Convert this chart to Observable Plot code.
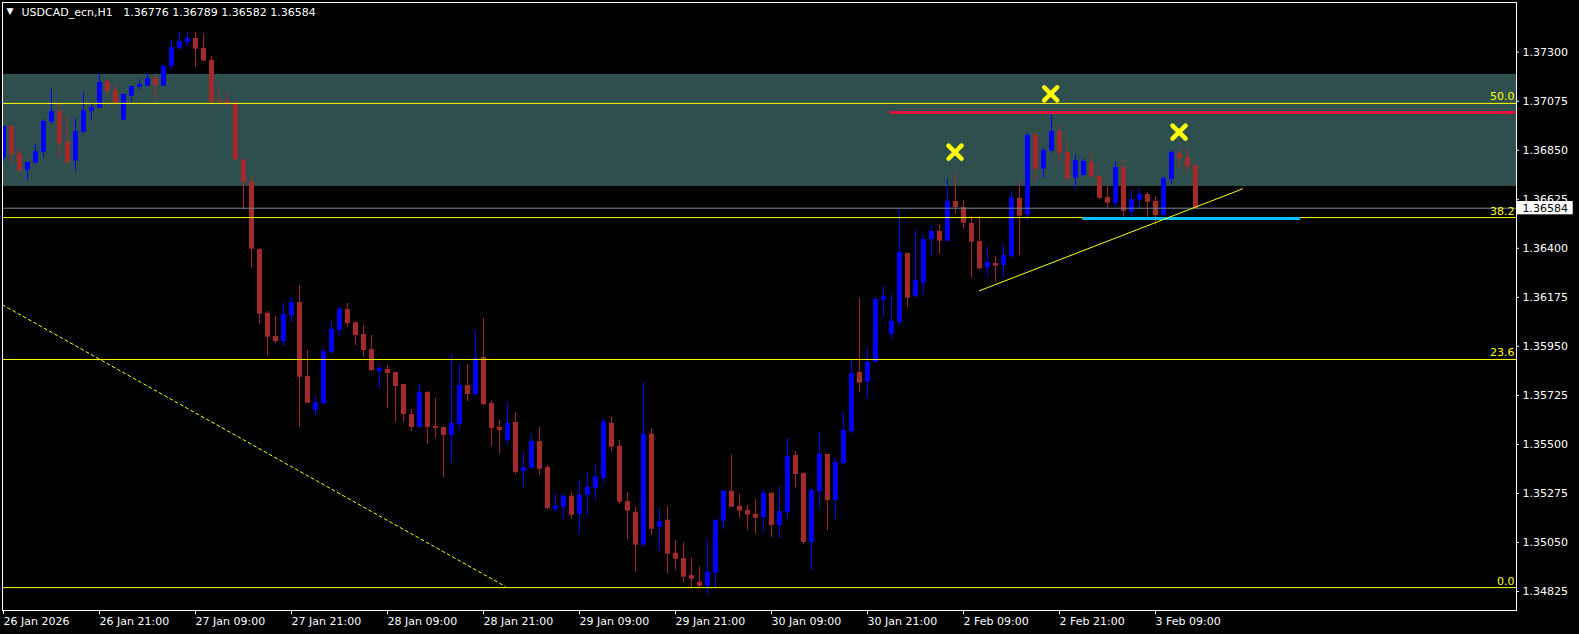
<!DOCTYPE html>
<html>
<head>
<meta charset="utf-8">
<script src="https://cdn.jsdelivr.net/npm/d3@7"></script>
<script src="https://cdn.jsdelivr.net/npm/@observablehq/plot@0.6"></script>
<style>
  html, body { margin: 0; padding: 0; background: #000; }
  #chart svg { display: block; }
</style>
</head>
<body>
<div id="chart"></div>
<script>
// ---- Data (USDCAD_ecn, H1) ----
const symbolTitle = "USDCAD_ecn,H1\u00a0\u00a0 1.36776 1.36789 1.36582 1.36584";

const O = [1.36814,1.36959,1.36834,1.36758,1.36791,1.36841,1.36979,1.37028,1.36886,1.36800,
1.36933,1.37029,1.37043,1.37165,1.37124,1.36988,1.37098,1.37139,1.37144,1.37179,
1.37144,1.37236,1.37318,1.37344,1.37363,1.37317,1.37262,1.37078,1.37074,1.37063,
1.36806,1.36705,1.36394,1.36101,1.35995,1.35972,1.36092,1.36151,1.35812,1.35657,
1.35686,1.35923,1.36023,1.36119,1.36059,1.36004,1.35936,1.35835,1.35844,1.35830,
1.35775,1.35637,1.35578,1.35738,1.35582,1.35578,1.35541,1.35591,1.35770,1.35729,
1.35899,1.35688,1.35578,1.35518,1.35601,1.35376,1.35391,1.35513,1.35394,1.35203,
1.35212,1.35262,1.35180,1.35267,1.35299,1.35345,1.35597,1.35492,1.35239,1.35189,
1.35038,1.35547,1.35120,1.35152,1.35001,1.34976,1.34898,1.34868,1.34849,1.34909,
1.35148,1.35285,1.35216,1.35198,1.35180,1.35165,1.35275,1.35128,1.35187,1.35449,
1.35366,1.35050,1.35284,1.35454,1.35243,1.35412,1.35559,1.35830,1.35786,1.35877,
1.36162,1.36006,1.36061,1.36376,1.36180,1.36240,1.36440,1.36477,1.36433,1.36615,
1.36587,1.36514,1.36431,1.36309,1.36330,1.36321,1.36362,1.36630,1.36552,1.36918,
1.36763,1.36846,1.36936,1.36840,1.36722,1.36735,1.36794,1.36729,1.36634,1.36607,
1.36771,1.36566,1.36621,1.36647,1.36615,1.36550,1.36716,1.36835,1.36817,1.36776];

const H = [1.36959,1.36959,1.36852,1.36794,1.36876,1.36991,1.37129,1.37060,1.37005,1.36996,
1.37115,1.37061,1.37198,1.37170,1.37152,1.37106,1.37142,1.37175,1.37201,1.37201,
1.37239,1.37354,1.37390,1.37390,1.37390,1.37381,1.37280,1.37139,1.37110,1.37074,
1.36806,1.36729,1.36400,1.36110,1.36087,1.36147,1.36174,1.36229,1.35931,1.35720,
1.35939,1.36061,1.36128,1.36147,1.36059,1.36046,1.36000,1.35862,1.35862,1.35830,
1.35775,1.35660,1.35775,1.35743,1.35711,1.35578,1.35913,1.35867,1.35867,1.36023,
1.36078,1.35702,1.35610,1.35688,1.35646,1.35463,1.35541,1.35578,1.35403,1.35272,
1.35272,1.35281,1.35331,1.35368,1.35405,1.35616,1.35625,1.35519,1.35281,1.35212,
1.35781,1.35574,1.35203,1.35216,1.35060,1.35047,1.34978,1.34937,1.35060,1.35152,
1.35290,1.35451,1.35272,1.35221,1.35249,1.35293,1.35279,1.35302,1.35527,1.35467,
1.35371,1.35298,1.35555,1.35454,1.35435,1.35646,1.35885,1.36170,1.35939,1.36176,
1.36226,1.36185,1.36573,1.36376,1.36477,1.36459,1.36500,1.36509,1.36716,1.36743,
1.36619,1.36547,1.36547,1.36404,1.36362,1.36419,1.36661,1.36711,1.36928,1.36931,
1.36858,1.37015,1.36959,1.36890,1.36826,1.36812,1.36835,1.36734,1.36685,1.36798,
1.36803,1.36665,1.36674,1.36657,1.36638,1.36726,1.36849,1.36853,1.36853,1.36789];

const L = [1.36798,1.36788,1.36740,1.36711,1.36786,1.36818,1.36968,1.36814,1.36780,1.36754,
1.36927,1.36991,1.37043,1.37103,1.37063,1.36988,1.37070,1.37126,1.37144,1.37078,
1.37144,1.37217,1.37309,1.37323,1.37231,1.37259,1.37059,1.37055,1.37051,1.36802,
1.36575,1.36309,1.36052,1.35905,1.35960,1.35951,1.36061,1.35579,1.35689,1.35630,
1.35686,1.35913,1.35998,1.36037,1.35954,1.35899,1.35835,1.35757,1.35665,1.35601,
1.35601,1.35559,1.35578,1.35500,1.35527,1.35348,1.35412,1.35568,1.35697,1.35724,
1.35679,1.35490,1.35454,1.35500,1.35362,1.35302,1.35391,1.35359,1.35198,1.35189,
1.35157,1.35157,1.35088,1.35175,1.35239,1.35322,1.35469,1.35226,1.35065,1.34914,
1.35028,1.35083,1.35010,1.34909,1.34923,1.34868,1.34845,1.34845,1.34808,1.34836,
1.35111,1.35212,1.35161,1.35106,1.35088,1.35100,1.35073,1.35068,1.35160,1.35302,
1.35041,1.34921,1.35206,1.35105,1.35155,1.35408,1.35550,1.35740,1.35708,1.35873,
1.36088,1.35983,1.36043,1.36130,1.36171,1.36189,1.36367,1.36372,1.36433,1.36556,
1.36488,1.36263,1.36299,1.36267,1.36244,1.36263,1.36358,1.36368,1.36524,1.36708,
1.36722,1.36836,1.36795,1.36699,1.36667,1.36731,1.36726,1.36625,1.36584,1.36589,
1.36543,1.36543,1.36579,1.36543,1.36506,1.36550,1.36690,1.36763,1.36745,1.36582];

const C = [1.36959,1.36832,1.36758,1.36794,1.36844,1.36982,1.37028,1.36881,1.36795,1.36936,
1.37032,1.37046,1.37161,1.37121,1.37063,1.37106,1.37142,1.37152,1.37179,1.37147,
1.37234,1.37321,1.37349,1.37363,1.37314,1.37259,1.37070,1.37070,1.37063,1.36806,
1.36703,1.36396,1.36098,1.35992,1.35972,1.36096,1.36151,1.35808,1.35689,1.35692,
1.35926,1.36027,1.36119,1.36055,1.36000,1.35931,1.35839,1.35848,1.35825,1.35766,
1.35637,1.35578,1.35738,1.35578,1.35573,1.35541,1.35596,1.35770,1.35729,1.35894,
1.35683,1.35573,1.35564,1.35596,1.35371,1.35394,1.35513,1.35386,1.35207,1.35216,
1.35262,1.35175,1.35267,1.35304,1.35350,1.35602,1.35487,1.35235,1.35194,1.35038,
1.35547,1.35111,1.35146,1.34996,1.34973,1.34891,1.34881,1.34849,1.34914,1.35152,
1.35285,1.35212,1.35194,1.35175,1.35161,1.35275,1.35128,1.35192,1.35444,1.35362,
1.35050,1.35288,1.35454,1.35243,1.35417,1.35564,1.35825,1.35781,1.35876,1.36165,
1.36179,1.36064,1.36381,1.36171,1.36252,1.36440,1.36477,1.36433,1.36615,1.36587,
1.36515,1.36428,1.36306,1.36335,1.36318,1.36367,1.36630,1.36547,1.36918,1.36763,
1.36849,1.36936,1.36836,1.36722,1.36803,1.36798,1.36726,1.36630,1.36607,1.36771,
1.36570,1.36624,1.36647,1.36611,1.36550,1.36720,1.36840,1.36812,1.36771,1.36584];

// axis ticks
const yTicks = [1.34825,1.35050,1.35275,1.35500,1.35725,1.35950,1.36175,1.36400,1.36625,1.36850,1.37075,1.37300];
const xTickBars = [0,12,24,36,48,60,72,84,96,108,120,132,144];
const xTickLabels = ["26 Jan 2026","26 Jan 21:00","27 Jan 09:00","27 Jan 21:00","28 Jan 09:00","28 Jan 21:00",
  "29 Jan 09:00","29 Jan 21:00","30 Jan 09:00","30 Jan 21:00","2 Feb 09:00","2 Feb 21:00","3 Feb 09:00"];

// drawn objects
const zoneTop = 1.37198, zoneBottom = 1.36684;
const fibLabels = ["0.0","23.6","38.2","50.0"];
const fibPrices = [1.34843,1.35890,1.36541,1.37065];
const lastPrice = 1.36584;
const resistancePrice = 1.37023, resistanceStartBar = 110.8;
const supportPrice = 1.36537, supportBars = [134.9, 162.15];
const trendBars = [121.98, 154.9], trendPrices = [1.36205, 1.36673];
const fibTrendBars = [-0.15, 62.7], fibTrendPrices = [1.36141, 1.34849];
const markBars = [118.94, 130.9, 146.94];
const markPrices = [1.36841, 1.37109, 1.36933];

// view window
const xDomain = [-0.125, 189.125];
const yDomain = [1.34738, 1.37528];

const bull = "#0000ff", bear = "#a52a2a";
const idx = O.map((_, i) => i);
const bullIdx = idx.filter(i => C[i] >= O[i]);
const bearIdx = idx.filter(i => C[i] < O[i]);

const pxY = (yDomain[1] - yDomain[0]) / 608; // price per pixel
const pxX = (xDomain[1] - xDomain[0]) / 1514; // bars per pixel

const chart = Plot.plot({
  width: 1579,
  height: 634,
  marginLeft: 2,
  marginRight: 63,
  marginTop: 2,
  marginBottom: 24,
  style: {background: "#000", color: "#fff", fontFamily: "DejaVu Sans", fontSize: "11px"},
  x: {domain: xDomain, axis: null},
  y: {domain: yDomain, axis: null},
  marks: [
    // zone
    Plot.rect([0], {x1: xDomain[0], x2: xDomain[1], y1: zoneBottom, y2: zoneTop, fill: "#2f4f4f"}),
    // candles
    Plot.ruleX(bullIdx, {x: d => d, y1: d => L[d], y2: d => H[d], stroke: bull, strokeWidth: 1, clip: true}),
    Plot.ruleX(bearIdx, {x: d => d, y1: d => L[d], y2: d => H[d], stroke: bear, strokeWidth: 1, clip: true}),
    Plot.ruleX(bullIdx, {x: d => d, y1: d => O[d], y2: d => C[d], stroke: bull, strokeWidth: 5, clip: true}),
    Plot.ruleX(bearIdx, {x: d => d, y1: d => O[d], y2: d => C[d], stroke: bear, strokeWidth: 5, clip: true}),
    // fib levels
    Plot.ruleY(fibPrices, {stroke: "#ffff00", strokeWidth: 1}),
    Plot.ruleY([lastPrice], {stroke: "#778899", strokeWidth: 1}),
    Plot.ruleY([resistancePrice], {x1: resistanceStartBar, x2: xDomain[1], stroke: "#dc143c", strokeWidth: 3}),
    Plot.ruleY([supportPrice], {x1: supportBars[0], x2: supportBars[1], stroke: "#00bfff", strokeWidth: 3}),
    // trendlines
    Plot.line(trendBars, {x: d => d, y: (d, i) => trendPrices[i], stroke: "#ffff00", strokeWidth: 1}),
    Plot.line(fibTrendBars, {x: d => d, y: (d, i) => fibTrendPrices[i], stroke: "#ffff00", strokeWidth: 1, strokeDasharray: "3,3", clip: true}),
    // markers
    Plot.dot(markBars, {x: d => d, y: (d, i) => markPrices[i], symbol: "times", r: 6, stroke: "#ffff00", strokeWidth: 4.5, strokeLinecap: "round"}),
    // fib labels
    Plot.text(fibPrices, {y: d => d, text: (d, i) => fibLabels[i], frameAnchor: "right", textAnchor: "end", dx: -2, dy: -6.5, fill: "#ffff00"}),
    // frame
    Plot.frame({stroke: "#fff"}),
    // right axis
    Plot.ruleY(yTicks, {x1: xDomain[1], x2: xDomain[1] + 3 * pxX, stroke: "#fff", clip: false}),
    Plot.text(yTicks, {y: d => d, text: d => d.toFixed(5), frameAnchor: "right", textAnchor: "start", dx: 6, fill: "#fff"}),
    // bottom axis
    Plot.ruleX(xTickBars, {x: d => d, y1: yDomain[0], y2: yDomain[0] - 4 * pxY, stroke: "#fff", clip: false}),
    Plot.text(xTickBars, {x: d => d, text: (d, i) => xTickLabels[i], frameAnchor: "bottom", textAnchor: "start", lineAnchor: "top", dy: 7, dx: 0, fill: "#fff"}),
    // current price label (white box + black text)
    Plot.rect([lastPrice], {x1: xDomain[1] + 0.7 * pxX, x2: xDomain[1] + 56.7 * pxX,
      y1: d => d - 6.6 * pxY, y2: d => d + 6.7 * pxY, fill: "#fff", clip: false}),
    Plot.text([lastPrice], {y: d => d, text: d => d.toFixed(5), frameAnchor: "right", textAnchor: "start", dx: 6, fill: "#000"}),
    // title
    Plot.text(["\u25BC"], {text: d => d, frameAnchor: "top-left", textAnchor: "start", lineAnchor: "top", dx: 4, dy: 5, fontSize: 9, fill: "#fff"}),
    Plot.text([symbolTitle], {text: d => d, frameAnchor: "top-left", textAnchor: "start", lineAnchor: "top", dx: 19, dy: 6, fill: "#fff"})
  ]
});

document.getElementById("chart").appendChild(chart);
</script>
</body>
</html>
